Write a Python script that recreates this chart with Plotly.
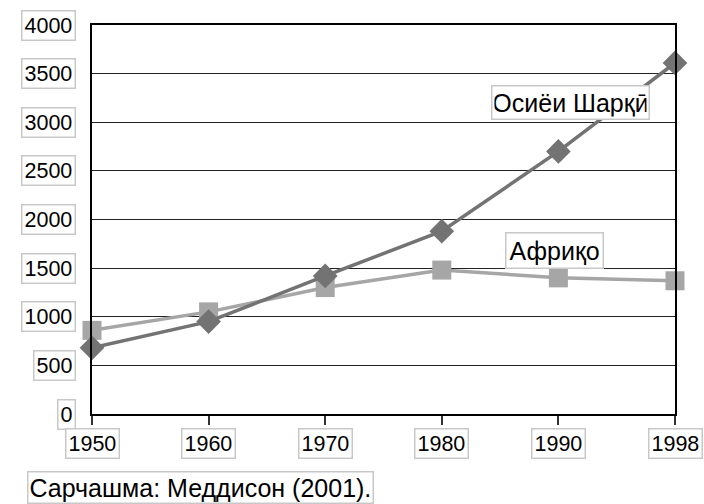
import plotly.graph_objects as go

years = ["1950", "1960", "1970", "1980", "1990", "1998"]
east_asia = [680, 950, 1420, 1880, 2700, 3610]
africa = [860, 1050, 1300, 1480, 1400, 1370]
y_ticks = [0, 500, 1000, 1500, 2000, 2500, 3000, 3500, 4000]
label_east = "Осиёи Шарқӣ"
label_africa = "Африқо"
source_text = "Сарчашма: Меддисон (2001)."

FONT = "Liberation Sans, Arial, sans-serif"
FS = 21.5
FS_TXT = 25
BOX = "#c8c8c8"

# plot area in page pixels
PL, PR, PT, PB = 92, 675, 25, 414
PW, PH = PR - PL, PB - PT

fig = go.Figure()
fig.add_trace(go.Scatter(
    x=years, y=africa, mode="lines+markers", name=label_africa,
    line=dict(color="#a6a6a6", width=3.5),
    marker=dict(symbol="square", size=19, color="#a6a6a6"),
    cliponaxis=False, showlegend=False))
fig.add_trace(go.Scatter(
    x=years, y=east_asia, mode="lines+markers", name=label_east,
    line=dict(color="#737373", width=3.5),
    marker=dict(symbol="diamond", size=19, color="#737373"),
    cliponaxis=False, showlegend=False))

fig.update_xaxes(type="category", range=[0, len(years) - 1], showticklabels=False,
                 ticks="outside", ticklen=9, tickwidth=1.5, tickcolor="#333",
                 showline=True, linecolor="black", linewidth=2, mirror=True,
                 showgrid=False, zeroline=False)
fig.update_yaxes(range=[0, 4000], tickvals=y_ticks, showticklabels=False,
                 showline=True, linecolor="black", linewidth=2, mirror=True,
                 showgrid=True, gridcolor="#222", gridwidth=1, zeroline=False)

ann = []
for v in y_ticks:
    ann.append(dict(x=(76 - PL) / PW, xref="paper", y=v, yref="y", text=str(v),
                    showarrow=False, xanchor="right", yanchor="middle",
                    font=dict(family=FONT, size=FS, color="black"),
                    bordercolor=BOX, borderwidth=1.5, borderpad=2, bgcolor="white"))
for i, yr in enumerate(years):
    ann.append(dict(x=i, xref="x", y=-(428 - PB) / PH, yref="paper", text=yr,
                    showarrow=False, xanchor="center", yanchor="top",
                    font=dict(family=FONT, size=FS, color="black"),
                    bordercolor=BOX, borderwidth=1.5, borderpad=2, bgcolor="white"))
ann.append(dict(x=4.1, xref="x", y=3200, yref="y", text=label_east, showarrow=False,
                font=dict(family=FONT, size=FS_TXT, color="black"), width=152,
                bordercolor=BOX, borderwidth=1.5, borderpad=2, bgcolor="white"))
ann.append(dict(x=3.97, xref="x", y=1681, yref="y", text=label_africa, showarrow=False,
                font=dict(family=FONT, size=FS_TXT, color="black"),
                bordercolor=BOX, borderwidth=1.5, borderpad=3, bgcolor="white"))
ann.append(dict(x=(27 - PL) / PW, xref="paper", y=-(471 - PB) / PH, yref="paper",
                text=source_text, showarrow=False, xanchor="left", yanchor="top",
                font=dict(family=FONT, size=FS_TXT, color="black"),
                bordercolor=BOX, borderwidth=1.5, borderpad=1, bgcolor="white"))
fig.update_layout(annotations=ann)

W, H = 704, 504
fig.update_layout(width=W, height=H,
                  margin=dict(l=PL, r=W - PR, t=PT, b=H - PB),
                  plot_bgcolor="white", paper_bgcolor="white")
fig.write_html("out.html", config={"displayModeBar": False},
               post_script="document.body.style.margin='0';"
                           "document.body.style.overflow='hidden';")
